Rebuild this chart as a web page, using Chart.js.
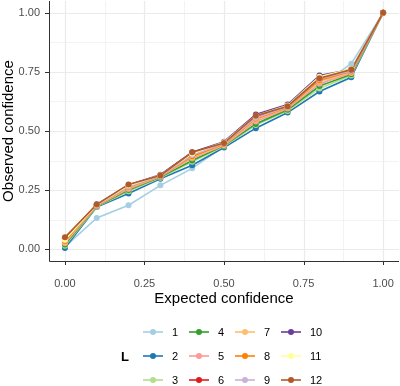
<!DOCTYPE html>
<html>
<head>
<meta charset="utf-8">
<script src="https://cdn.jsdelivr.net/npm/chart.js@4/dist/chart.umd.min.js"></script>
<style>
  html, body { margin: 0; padding: 0; background: #fff; }
  #wrap { width: 400px; height: 386px; position: relative; }
</style>
</head>
<body>
<div id="wrap"><canvas id="chart" width="400" height="386"></canvas></div>
<script>
const expected = [0, 0.1, 0.2, 0.3, 0.4, 0.5, 0.6, 0.7, 0.8, 0.9, 1.0];
const levels = ["1", "2", "3", "4", "5", "6", "7", "8", "9", "10", "11", "12"];
const colors = ["#A6CEE3", "#1F78B4", "#B2DF8A", "#33A02C", "#FB9A99", "#E31A1C",
  "#FDBF6F", "#FF7F00", "#CAB2D6", "#6A3D9A", "#FFFF99", "#B15928"];
const xTicks = [0, 0.25, 0.5, 0.75, 1];
const yTicks = [0, 0.25, 0.5, 0.75, 1];

// observed confidence per L, one value per expected bin
const L1 = [0.010, 0.132, 0.186, 0.270, 0.342, 0.435, 0.530, 0.595, 0.690, 0.785, 1.0];
const L2 = [0.005, 0.178, 0.236, 0.298, 0.355, 0.430, 0.512, 0.578, 0.667, 0.727, 1.0];
const L3 = [0.015, 0.180, 0.245, 0.302, 0.370, 0.435, 0.525, 0.585, 0.680, 0.735, 1.0];
const L4 = [0.020, 0.182, 0.250, 0.305, 0.375, 0.438, 0.530, 0.590, 0.690, 0.740, 1.0];
const L5 = [0.025, 0.183, 0.255, 0.307, 0.385, 0.440, 0.540, 0.595, 0.700, 0.745, 1.0];
const L6 = [0.035, 0.186, 0.265, 0.310, 0.395, 0.446, 0.560, 0.600, 0.720, 0.750, 1.0];
const L7 = [0.030, 0.185, 0.260, 0.308, 0.390, 0.442, 0.548, 0.598, 0.710, 0.748, 1.0];
const L8 = [0.035, 0.186, 0.263, 0.310, 0.393, 0.445, 0.552, 0.600, 0.715, 0.752, 1.0];
const L9 = [0.040, 0.187, 0.265, 0.310, 0.398, 0.447, 0.555, 0.602, 0.720, 0.755, 1.0];
const L10 = [0.045, 0.190, 0.272, 0.315, 0.410, 0.455, 0.570, 0.612, 0.735, 0.760, 1.0];
const L11 = [0.040, 0.188, 0.270, 0.313, 0.405, 0.452, 0.565, 0.608, 0.730, 0.762, 1.0];
const L12 = [0.050, 0.189, 0.274, 0.312, 0.410, 0.449, 0.565, 0.605, 0.723, 0.760, 1.0];
const observed = [L1, L2, L3, L4, L5, L6, L7, L8, L9, L10, L11, L12];

const FONT = "'Liberation Sans', Arial, Helvetica, sans-serif";

function points(values) {
  return values.map((y, i) => ({ x: expected[i], y }));
}

// lines first, then points on top (like geom_line + geom_point)
const lineSets = levels.map((name, i) => ({
  label: name,
  data: points(observed[i]),
  borderColor: colors[i],
  backgroundColor: colors[i],
  borderWidth: 1.6,
  pointRadius: 0,
  showLine: true,
  order: 100 - i,
}));
const pointSets = levels.map((name, i) => ({
  label: name + "_pt",
  data: points(observed[i]),
  borderColor: colors[i],
  backgroundColor: colors[i],
  pointRadius: 3,
  pointBorderWidth: 0,
  showLine: false,
  order: 50 - i,
}));

const panelPlugin = {
  id: "panel",
  beforeDatasetsDraw(chart) {
    const { ctx, chartArea: a, scales: { x, y } } = chart;
    ctx.save();
    ctx.strokeStyle = "#EBEBEB";
    // minor grid
    ctx.lineWidth = 0.6;
    for (const v of [0.125, 0.375, 0.625, 0.875]) {
      const px = Math.round(x.getPixelForValue(v)) + 0.5;
      ctx.beginPath(); ctx.moveTo(px, a.top); ctx.lineTo(px, a.bottom); ctx.stroke();
      const py = Math.round(y.getPixelForValue(v)) + 0.5;
      ctx.beginPath(); ctx.moveTo(a.left, py); ctx.lineTo(a.right, py); ctx.stroke();
    }
    // major grid
    ctx.lineWidth = 1.2;
    for (const v of xTicks) {
      const px = Math.round(x.getPixelForValue(v)) + 0.5;
      ctx.beginPath(); ctx.moveTo(px, a.top); ctx.lineTo(px, a.bottom); ctx.stroke();
    }
    for (const v of yTicks) {
      const py = Math.round(y.getPixelForValue(v)) + 0.5;
      ctx.beginPath(); ctx.moveTo(a.left, py); ctx.lineTo(a.right, py); ctx.stroke();
    }
    ctx.restore();
  },
  afterDraw(chart) {
    const { ctx, chartArea: a, scales: { x, y } } = chart;
    ctx.save();
    ctx.strokeStyle = "#333333";
    ctx.lineWidth = 1;
    ctx.beginPath();
    ctx.moveTo(a.left + 0.5, a.top);
    ctx.lineTo(a.left + 0.5, a.bottom + 0.5);
    ctx.lineTo(a.right, a.bottom + 0.5);
    ctx.stroke();
    for (const v of xTicks) {
      const px = Math.round(x.getPixelForValue(v)) + 0.5;
      ctx.beginPath(); ctx.moveTo(px, a.bottom); ctx.lineTo(px, a.bottom + 4); ctx.stroke();
    }
    for (const v of yTicks) {
      const py = Math.round(y.getPixelForValue(v)) + 0.5;
      ctx.beginPath(); ctx.moveTo(a.left - 4, py); ctx.lineTo(a.left, py); ctx.stroke();
    }

    // legend: 4 columns x 3 rows, filled column by column
    ctx.font = "bold 13px " + FONT;
    ctx.fillStyle = "#000";
    ctx.textBaseline = "middle";
    ctx.textAlign = "left";
    ctx.fillText("L", 121, 357);
    ctx.font = "11px " + FONT;
    const rowY = [332, 356, 380];
    levels.forEach((name, i) => {
      const col = Math.floor(i / 3), row = i % 3;
      const x0 = 143 + col * 46, cy = rowY[row];
      ctx.strokeStyle = colors[i];
      ctx.lineWidth = 1.6;
      ctx.beginPath(); ctx.moveTo(x0, cy); ctx.lineTo(x0 + 20, cy); ctx.stroke();
      ctx.fillStyle = colors[i];
      ctx.beginPath(); ctx.arc(x0 + 10, cy, 3, 0, Math.PI * 2); ctx.fill();
      ctx.fillStyle = "#000";
      ctx.fillText(name, x0 + 29, cy + 0.5);
    });
    ctx.restore();
  },
};

new Chart(document.getElementById("chart"), {
  type: "scatter",
  data: { datasets: [...lineSets, ...pointSets] },
  options: {
    responsive: false,
    animation: false,
    events: [],
    layout: { autoPadding: false, padding: { top: 1, right: 1, bottom: 78, left: 0 } },
    plugins: { legend: { display: false }, tooltip: { enabled: false } },
    scales: {
      x: {
        type: "linear",
        min: -0.05,
        max: 1.05,
        afterBuildTicks: (scale) => { scale.ticks = xTicks.map((v) => ({ value: v })); },
        afterFit: (scale) => {
          scale.height = 47;
          scale.paddingLeft = 0;
          scale.paddingRight = 0;
        },
        grid: { display: false, drawTicks: false },
        border: { display: false },
        ticks: {
          padding: 16,
          color: "#4D4D4D",
          font: { family: FONT, size: 11 },
          callback: (v) => Number(v).toFixed(2),
        },
        title: {
          display: true,
          text: "Expected confidence",
          color: "#000",
          font: { family: FONT, size: 15 },
          padding: { top: 0, bottom: 0 },
        },
      },
      y: {
        type: "linear",
        min: -0.05,
        max: 1.05,
        afterBuildTicks: (scale) => { scale.ticks = yTicks.map((v) => ({ value: v })); },
        afterFit: (scale) => {
          scale.width = 49;
          scale.paddingTop = 0;
          scale.paddingBottom = 0;
        },
        grid: { display: false, drawTicks: false },
        border: { display: false },
        ticks: {
          padding: 9,
          color: "#4D4D4D",
          font: { family: FONT, size: 11 },
          callback: (v) => Number(v).toFixed(2),
        },
        title: {
          display: true,
          text: "Observed confidence",
          color: "#000",
          font: { family: FONT, size: 15 },
          padding: { top: 0, bottom: 0 },
        },
      },
    },
  },
  plugins: [panelPlugin],
});
</script>
</body>
</html>
